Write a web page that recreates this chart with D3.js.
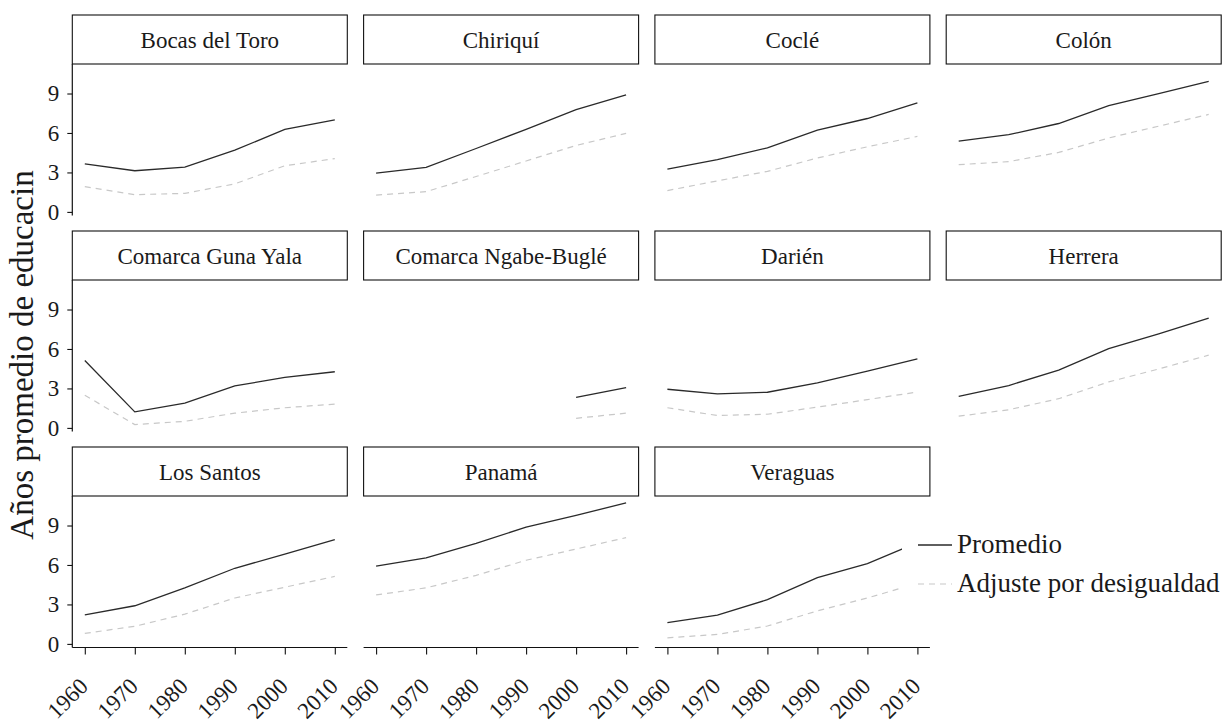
<!DOCTYPE html>
<html>
<head>
<meta charset="utf-8">
<script src="https://cdn.jsdelivr.net/npm/d3@7"></script>
<style>
  body { margin: 0; background: #fff; }
  svg text { font-family: "Liberation Serif", "DejaVu Serif", serif; fill: #1a1a1a; }
</style>
</head>
<body>
<div id="chart"></div>
<script>
// data
var years = [1960, 1970, 1980, 1990, 2000, 2010];
var provinces = ["Bocas del Toro", "Chiriquí", "Coclé", "Colón",
  "Comarca Guna Yala", "Comarca Ngabe-Buglé", "Darién", "Herrera",
  "Los Santos", "Panamá", "Veraguas"];
var promedio = [
  [3.65, 3.13, 3.41, 4.69, 6.28, 7.0],
  [2.95, 3.38, 4.82, 6.28, 7.77, 8.9],
  [3.26, 3.98, 4.87, 6.21, 7.1, 8.28],
  [5.38, 5.87, 6.72, 8.08, 9.0, 9.92],
  [5.12, 1.22, 1.88, 3.19, 3.84, 4.27],
  [null, null, null, null, 2.32, 3.07],
  [2.94, 2.58, 2.71, 3.43, 4.32, 5.25],
  [2.4, 3.22, 4.4, 6.02, 7.15, 8.35],
  [2.21, 2.9, 4.26, 5.75, 6.82, 7.92],
  [5.92, 6.54, 7.64, 8.88, 9.77, 10.72],
  [1.62, 2.18, 3.36, 5.03, 6.1, 7.7]
];
var ajuste = [
  [1.92, 1.31, 1.41, 2.13, 3.51, 4.05],
  [1.28, 1.54, 2.69, 3.87, 5.05, 5.97],
  [1.62, 2.36, 3.08, 4.1, 4.95, 5.74],
  [3.59, 3.82, 4.52, 5.62, 6.52, 7.41],
  [2.48, 0.25, 0.5, 1.12, 1.53, 1.81],
  [null, null, null, null, 0.73, 1.12],
  [1.53, 0.94, 1.04, 1.58, 2.15, 2.73],
  [0.89, 1.38, 2.22, 3.5, 4.48, 5.53],
  [0.8, 1.34, 2.26, 3.49, 4.31, 5.13],
  [3.72, 4.26, 5.21, 6.36, 7.21, 8.08],
  [0.46, 0.72, 1.36, 2.51, 3.49, 4.6]
];
var yTicks = [0, 3, 6, 9];
var seriesNames = ["Promedio", "Adjuste por desigualdad"];

var W = 1231, H = 726;
var ncol = 4, nrow = 3;
var panelW = 275, panelH = 151.5, stripH = 49;
var marginLeft = 72.3, marginTop = 64;
var colStep = 291.3, rowStep = 216;

var svg = d3.select("#chart").append("svg")
  .attr("width", W).attr("height", H);

// scales shared by every panel (ggplot style 5% expansion)
var x = d3.scaleLinear().domain([1957.5, 2012.5]).range([0, panelW]);
var all = d3.merge(promedio.concat(ajuste)).filter(function(d) { return d != null; });
var ext = d3.extent(all), pad = (ext[1] - ext[0]) * 0.05;
var y = d3.scaleLinear().domain([ext[0] - pad, ext[1] + pad]).range([panelH, 0]);

var line = d3.line()
  .defined(function(d) { return d != null; })
  .x(function(d, i) { return x(years[i]); })
  .y(function(d) { return y(d); });

provinces.forEach(function(name, k) {
  var col = k % ncol, row = Math.floor(k / ncol);
  var g = svg.append("g")
    .attr("transform", "translate(" + (marginLeft + col * colStep) + "," + (marginTop + row * rowStep) + ")");

  // strip
  g.append("rect")
    .attr("x", 0).attr("y", -stripH)
    .attr("width", panelW).attr("height", stripH)
    .attr("fill", "#fff").attr("stroke", "#111").attr("stroke-width", 1.1);
  g.append("text")
    .attr("x", panelW / 2).attr("y", -stripH + 33)
    .attr("text-anchor", "middle")
    .attr("font-size", "23px")
    .text(name);

  g.append("path")
    .attr("d", line(ajuste[k]))
    .attr("fill", "none").attr("stroke", "#c8c8c8")
    .attr("stroke-width", 1.2).attr("stroke-dasharray", "6,5");
  g.append("path")
    .attr("d", line(promedio[k]))
    .attr("fill", "none").attr("stroke", "#2a2a2a")
    .attr("stroke-width", 1.3);

  if (col == 0) {
    var ya = g.append("g").call(d3.axisLeft(y).tickValues(yTicks).tickSize(5).tickPadding(8));
    ya.select(".domain").attr("d", "M0,0V" + panelH).attr("stroke", "#111").attr("stroke-width", 1.2);
    ya.selectAll("line").attr("stroke", "#111").attr("stroke-width", 1.1);
    ya.selectAll("text").attr("font-size", "23px").attr("font-family", "Liberation Serif").attr("fill", "#1a1a1a");
  }

  if (row == nrow - 1) {
    var xa = g.append("g").attr("transform", "translate(0," + panelH + ")")
      .call(d3.axisBottom(x).tickValues(years).tickFormat(d3.format("d")).tickSize(7));
    xa.select(".domain").attr("d", "M0,0H" + panelW).attr("stroke", "#111").attr("stroke-width", 1.2);
    xa.selectAll("line").attr("stroke", "#111").attr("stroke-width", 1.1);
    xa.selectAll("text")
      .attr("font-size", "23px").attr("font-family", "Liberation Serif").attr("fill", "#1a1a1a")
      .attr("text-anchor", "end")
      .attr("dy", null).attr("y", null)
      .attr("transform", "translate(4,40) rotate(-45)");
  }
});

// y axis title
svg.append("text")
  .attr("transform", "translate(33,355) rotate(-90)")
  .attr("text-anchor", "middle")
  .attr("font-size", "33px")
  .text("Años promedio de educacin");

// legend, drawn over the Veraguas panel like the original
var lg = svg.append("g").attr("transform", "translate(902,527)");
lg.append("rect").attr("width", 329).attr("height", 78).attr("fill", "#fff");
seriesNames.forEach(function(s, i) {
  var yy = 18 + i * 39;
  lg.append("line")
    .attr("x1", 16).attr("x2", 50).attr("y1", yy).attr("y2", yy)
    .attr("stroke", i == 0 ? "#2a2a2a" : "#c8c8c8")
    .attr("stroke-width", i == 0 ? 1.3 : 1.2)
    .attr("stroke-dasharray", i == 0 ? null : "6,5");
  lg.append("text")
    .attr("x", 55).attr("y", yy + 8)
    .attr("font-size", "27px")
    .text(s);
});
</script>
</body>
</html>
